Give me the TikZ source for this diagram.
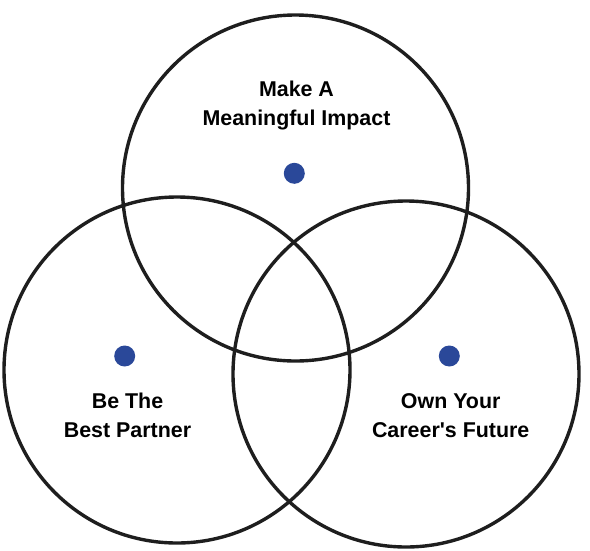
\documentclass[tikz,border=0pt]{standalone}
\usepackage{fontspec}
\setmainfont{Liberation Sans}
\usepackage{tikz}
\usetikzlibrary{positioning}
\definecolor{dotblue}{HTML}{2A4899}
\definecolor{ringline}{HTML}{1E1E1E}

\begin{document}
\begin{tikzpicture}[
  x=1pt, y=-1pt,
  every node/.style={font=\fontsize{21.4}{29.5}\selectfont\bfseries},
  ring/.style={circle, draw=ringline, line width=3.4pt, minimum size=346pt, inner sep=0pt},
  spot/.style={circle, fill=dotblue, minimum size=21pt, inner sep=0pt},
  label/.style={align=center, inner sep=0pt, text=black},
]
\useasboundingbox (0,0) rectangle (590,550);

% Circles
\node[ring] (impact) at (295.5,188) {};
\node[ring] (partner) at (177,370) {};
\node[ring] (career) at (406,374) {};

% Dots
\node[spot] (impactdot) at (294.3,173.3) {};
\node[spot] (partnerdot) at (124.7,356) {};
\node[spot] (careerdot) at (449.3,356) {};

% Labels
\node[label] (impacttext) at (296.5,105.5) {Make A\\Meaningful Impact};
\node[label] (partnertext) at (127.5,415.5) {Be The\\Best Partner};
\node[label] (careertext) at (450.7,415.5) {Own Your\\Career\textquotesingle s Future};
\end{tikzpicture}
\end{document}
